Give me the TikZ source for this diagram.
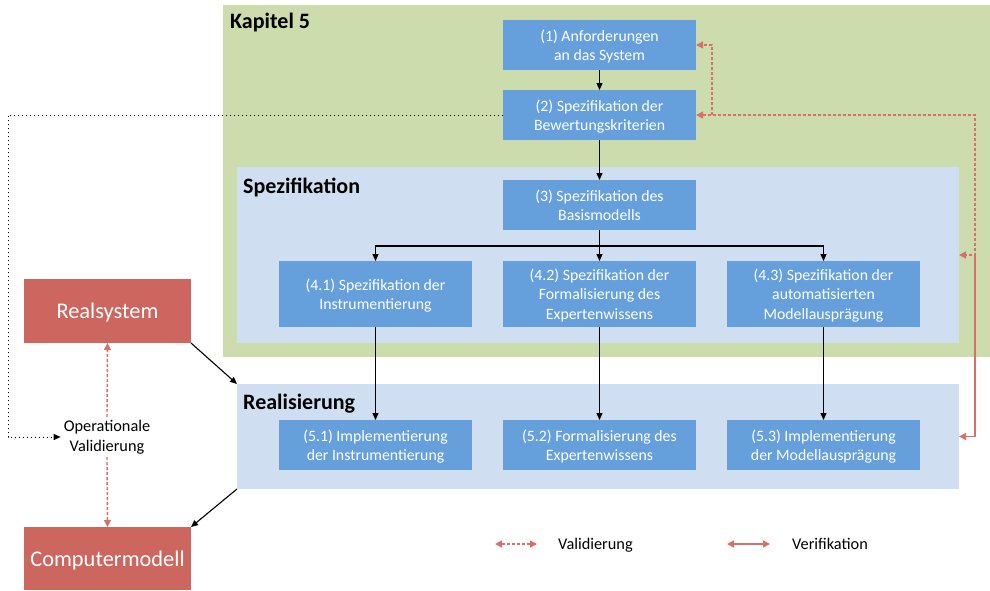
\documentclass[tikz,border=0pt]{standalone}
\usepackage{fontspec}
\setmainfont{Carlito}
\usetikzlibrary{arrows.meta}

\definecolor{kapgreen}{RGB}{205,220,172}
\definecolor{panelblue}{RGB}{207,223,241}
\definecolor{boxblue}{RGB}{101,160,221}
\definecolor{boxred}{RGB}{205,102,94}
\definecolor{linered}{RGB}{214,112,106}

\tikzset{rtip/.tip={Triangle[length=7pt,width=7pt]}}

\begin{document}
\begin{tikzpicture}[x=1pt,y=-1pt,
  panel/.style={anchor=north west, inner sep=0pt, outer sep=0pt},
  paneltitle/.style={anchor=west, inner sep=0pt, font=\fontsize{22}{24}\selectfont\bfseries},
  stepbox/.style={anchor=north west, fill=boxblue, text=white, minimum width=193pt,
    minimum height=50pt, inner sep=2pt, outer sep=0pt, align=center, text depth=0pt,
    font=\fontsize{15.8}{19.5}\selectfont},
  modelbox/.style={anchor=north west, fill=boxred, text=white, minimum width=167pt,
    inner sep=0pt, outer sep=0pt, text depth=0pt, font=\fontsize{22.4}{26}\selectfont},
  label/.style={align=center, inner sep=3pt, font=\fontsize{16.3}{19.5}\selectfont},
  flow/.style={draw=black, line width=1.1pt, -{Triangle[length=7pt,width=6pt]}},
  val/.style={draw=linered, line width=1.4pt, dash pattern=on 3pt off 2pt},
  ver/.style={draw=linered, line width=1.4pt},
]
\useasboundingbox (0,0) rectangle (990,590);

% background panels
\node[panel, fill=kapgreen, minimum width=767pt, minimum height=352pt] (kap) at (223,5) {};
\node[panel, fill=panelblue, minimum width=722pt, minimum height=176pt] (spez) at (237,167) {};
\node[panel, fill=panelblue, minimum width=722pt, minimum height=105pt] (real) at (237,384) {};
\node[paneltitle] (tkap) at (230,23) {Kapitel 5};
\node[paneltitle] (tspez) at (243,187) {Spezifikation};
\node[paneltitle] (treal) at (243,404) {Realisierung};

% process steps
\node[stepbox] (n1) at (503,20) {(1) Anforderungen\\an das System};
\node[stepbox] (n2) at (503,90) {(2) Spezifikation der\\Bewertungskriterien};
\node[stepbox] (n3) at (503,180) {(3) Spezifikation des\\Basismodells};
\node[stepbox, minimum height=66pt] (n41) at (279,261) {(4.1) Spezifikation der\\Instrumentierung};
\node[stepbox, minimum height=66pt] (n42) at (503,261) {(4.2) Spezifikation der\\Formalisierung des\\Expertenwissens};
\node[stepbox, minimum height=66pt] (n43) at (727,261) {(4.3) Spezifikation der\\automatisierten\\Modellausprägung};
\node[stepbox] (n51) at (279,420) {(5.1) Implementierung\\der Instrumentierung};
\node[stepbox] (n52) at (503,420) {(5.2) Formalisierung des\\Expertenwissens};
\node[stepbox] (n53) at (727,420) {(5.3) Implementierung\\der Modellausprägung};

% real system and computer model
\node[modelbox, minimum height=64pt] (rs) at (24,279) {Realsystem};
\node[modelbox, minimum height=63pt] (cm) at (24,527) {Computermodell};
\node[label] (ov) at (107,437) {Operationale\\Validierung};

% main flow
\draw[flow] (n1.south) -- (n2.north);
\draw[flow] (n2.south) -- (n3.north);
\coordinate (split) at (600,246);
\draw[flow] (n3.south) -- (n42.north);
\draw[flow] (split) -| (n41.north);
\draw[flow] (split) -| (n43.north);
\draw[flow] (n41.south) -- (n51.north);
\draw[flow] (n42.south) -- (n52.north);
\draw[flow] (n43.south) -- (n53.north);
\draw[flow] (rs.south east) -- (real.north west);
\draw[flow] (real.south west) -- (cm.north east);

% operational validation feed
\coordinate (dl) at (8,115);
\draw[draw=black, line width=1pt, dash pattern=on 1pt off 3pt,
  -{Triangle[length=7pt,width=6pt]}] (n2.west) -- (dl) |- (ov.west);
\draw[val, -{rtip}] (ov.north) -- (rs.south);
\draw[val, -{rtip}] (ov.south) -- (cm.north);

% validation and verification loops
\coordinate (vj) at (712,115);
\coordinate (rv) at (975,255);
\draw[val, {rtip}-{rtip}] (n2.east) -| (rv) -- (spez.east);
\draw[val, -{rtip}] (vj) |- (n1.east);
\draw[ver, -{rtip}] (rv) |- (real.east);

% legend
\coordinate (lva) at (495,544);
\coordinate (lvb) at (537,544);
\coordinate (lwa) at (727,544);
\coordinate (lwb) at (770,544);
\draw[val, {rtip}-{rtip}] (lva) -- (lvb);
\draw[ver, {rtip}-{rtip}] (lwa) -- (lwb);
\node[label, anchor=west, inner sep=0pt] (lvt) at (558,545) {Validierung};
\node[label, anchor=west, inner sep=0pt] (lwt) at (792,544) {Verifikation};
\end{tikzpicture}
\end{document}
